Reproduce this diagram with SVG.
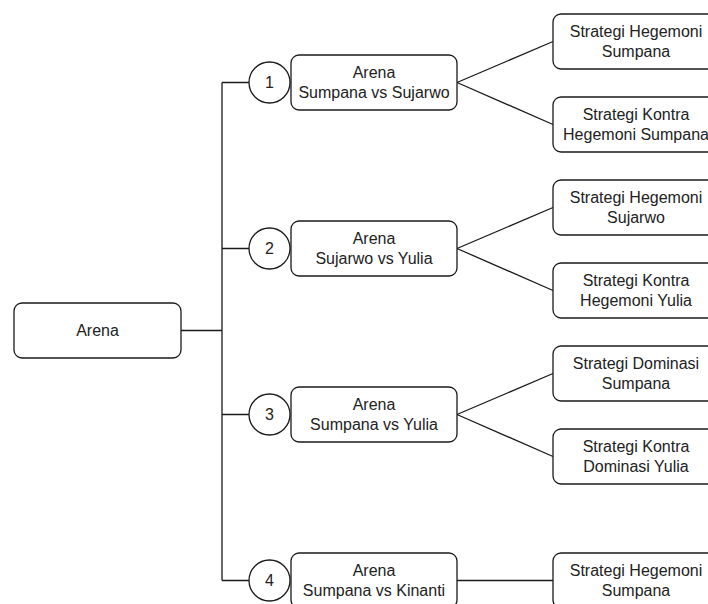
<svg xmlns="http://www.w3.org/2000/svg" width="708" height="604" viewBox="0 0 708 604">
<style>
.box{fill:#fff;stroke:#1a1a1a;stroke-width:1.3}
.circ{fill:#fff;stroke:#1a1a1a;stroke-width:1.3}
.ln{fill:none;stroke:#1a1a1a;stroke-width:1.3}
text{font-family:"Liberation Sans",Arial,sans-serif;font-size:16px;fill:#222;text-anchor:middle}
</style>
<rect width="708" height="604" fill="#fff"/>
<g id="connectors">
<path class="ln" d="M181 330.5H222M222 82.5V580.5M222 82.5H249M222 248.5H249M222 414.5H249M222 580.5H249"/>
<path class="ln" d="M457 82.5L553 41.5M457 82.5L553 124.5"/>
<path class="ln" d="M457 248.5L553 207.5M457 248.5L553 290.5"/>
<path class="ln" d="M457 414.5L553 373.5M457 414.5L553 456.5"/>
<path class="ln" d="M457 580.5H553"/>
</g>
<g id="root">
<rect class="box" x="14" y="303" width="167" height="55" rx="8"/>
<text x="97.5" y="336">Arena</text>
</g>
<g id="c1"><circle class="circ" cx="269.5" cy="82.5" r="20.5"/><text x="269.5" y="88">1</text></g>
<g id="c2"><circle class="circ" cx="269.5" cy="248.5" r="20.5"/><text x="269.5" y="254">2</text></g>
<g id="c3"><circle class="circ" cx="269.5" cy="414.5" r="20.5"/><text x="269.5" y="420">3</text></g>
<g id="c4"><circle class="circ" cx="269.5" cy="580.5" r="20.5"/><text x="269.5" y="586">4</text></g>
<g id="a1"><rect class="box" x="291" y="55" width="166" height="55" rx="8"/><text x="374" y="78">Arena</text><text x="374" y="98">Sumpana vs Sujarwo</text></g>
<g id="a2"><rect class="box" x="291" y="221" width="166" height="55" rx="8"/><text x="374" y="244">Arena</text><text x="374" y="264">Sujarwo vs Yulia</text></g>
<g id="a3"><rect class="box" x="291" y="387" width="166" height="55" rx="8"/><text x="374" y="410">Arena</text><text x="374" y="430">Sumpana vs Yulia</text></g>
<g id="a4"><rect class="box" x="291" y="553" width="166" height="55" rx="8"/><text x="374" y="576">Arena</text><text x="374" y="596">Sumpana vs Kinanti</text></g>
<g id="s1a"><rect class="box" x="553" y="14" width="166" height="55" rx="8"/><text x="636" y="37">Strategi Hegemoni</text><text x="636" y="57">Sumpana</text></g>
<g id="s1b"><rect class="box" x="553" y="97" width="166" height="55" rx="8"/><text x="636" y="120">Strategi Kontra</text><text x="636" y="140">Hegemoni Sumpana</text></g>
<g id="s2a"><rect class="box" x="553" y="180" width="166" height="55" rx="8"/><text x="636" y="203">Strategi Hegemoni</text><text x="636" y="223">Sujarwo</text></g>
<g id="s2b"><rect class="box" x="553" y="263" width="166" height="55" rx="8"/><text x="636" y="286">Strategi Kontra</text><text x="636" y="306">Hegemoni Yulia</text></g>
<g id="s3a"><rect class="box" x="553" y="346" width="166" height="55" rx="8"/><text x="636" y="369">Strategi Dominasi</text><text x="636" y="389">Sumpana</text></g>
<g id="s3b"><rect class="box" x="553" y="429" width="166" height="55" rx="8"/><text x="636" y="452">Strategi Kontra</text><text x="636" y="472">Dominasi Yulia</text></g>
<g id="s4a"><rect class="box" x="553" y="553" width="166" height="55" rx="8"/><text x="636" y="576">Strategi Hegemoni</text><text x="636" y="596">Sumpana</text></g>
</svg>
